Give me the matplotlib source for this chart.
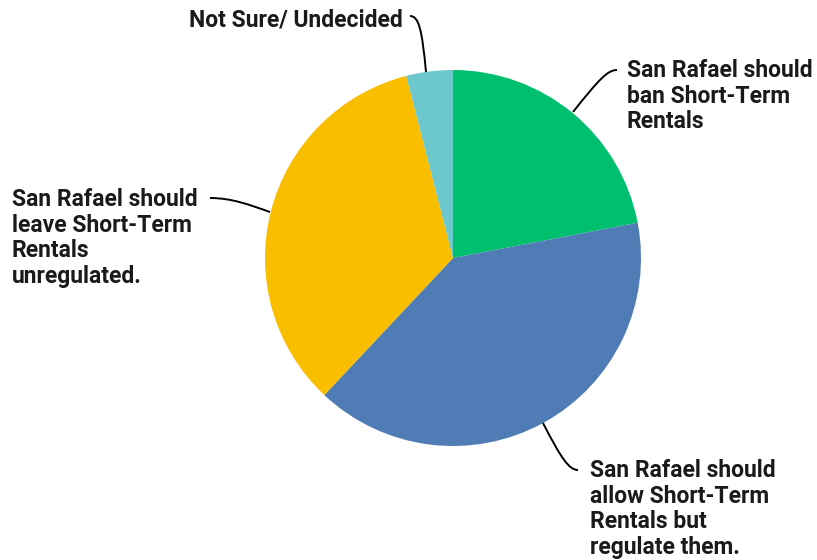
import matplotlib.pyplot as plt
from matplotlib.path import Path
from matplotlib.patches import PathPatch

# survey answers, clockwise from 12 o'clock
labels = [
    "San Rafael should\nban Short-Term\nRentals",
    "San Rafael should\nallow Short-Term\nRentals but\nregulate them.",
    "San Rafael should\nleave Short-Term\nRentals\nunregulated.",
    "Not Sure/ Undecided",
]
shares = [22, 40, 34, 4]
colors = ["#00BF6F", "#507CB6", "#F9BE00", "#6CC8CC"]

W, H = 817, 560
plt.rcParams['font.family'] = ['Roboto', 'DejaVu Sans']

fig = plt.figure(figsize=(W / 100, H / 100), dpi=100)
ax = fig.add_axes([0, 0, 1, 1])

cx, cy, r = 453, H - 258, 188
ax.pie(shares, colors=colors, startangle=90, counterclock=False,
       center=(cx, cy), radius=r, frame=True,
       wedgeprops=dict(linewidth=0))
ax.set_xlim(0, W)
ax.set_ylim(0, H)
ax.set_aspect('equal')
ax.axis('off')

# label top-left anchors (px) and leader lines as cubic curves (px, label end -> pie edge)
text_pos = [(627, 59), (590, 459), (12, 188), (189, 8)]
leaders = [
    [(617, 70), (608, 70), (600, 78), (573, 112)],
    [(578, 470), (569, 470), (561, 458), (543, 423)],
    [(210, 198), (232, 198), (250, 205), (270, 212)],
    [(410, 16), (419, 16), (422, 30), (426, 72)],
]

for lab, (tx, ty), pts in zip(labels, text_pos, leaders):
    ax.text(tx, H - ty, lab, ha='left', va='top', fontsize=16.5,
            fontweight='bold', color='#1a1a1a', linespacing=1.15)
    path = Path([(x, H - y) for x, y in pts],
                [Path.MOVETO, Path.CURVE4, Path.CURVE4, Path.CURVE4])
    ax.add_patch(PathPatch(path, fill=False, edgecolor='black', lw=1.4))

fig.savefig('out.png', dpi=100)
